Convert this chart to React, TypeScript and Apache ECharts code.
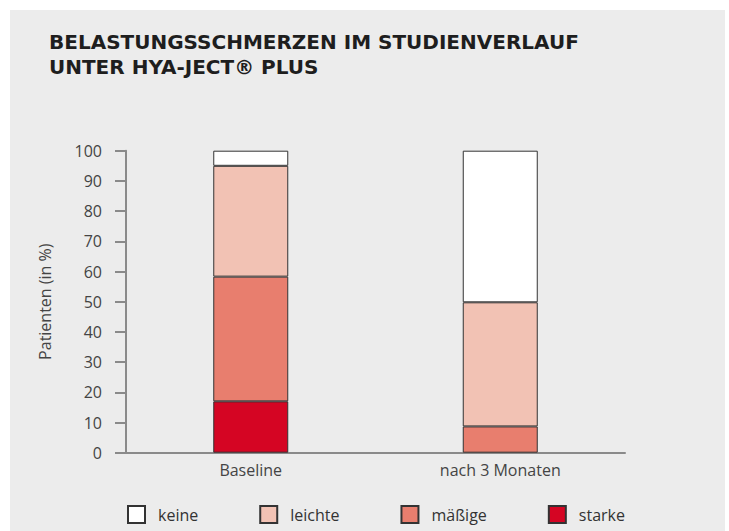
import React, { useEffect, useRef } from "react";
import * as echarts from "echarts";

const categories = ["Baseline", "nach 3 Monaten"];
const seriesNames = ["keine", "leichte", "mäßige", "starke"];
const keine = [5, 50.2];
const leichte = [36.7, 41.1];
const maessige = [41.3, 8.7];
const starke: (number | string)[] = [17, "-"];
const yTicks = { min: 0, max: 100, interval: 10 };
const colors: Record<string, string> = {
  keine: "#ffffff",
  leichte: "#f2c2b4",
  "mäßige": "#e87e6e",
  starke: "#d50523",
};

export default function App() {
  const ref = useRef<HTMLDivElement>(null);
  useEffect(() => {
    if (!ref.current) return;
    const chart = echarts.init(ref.current, null, { renderer: "svg" });
    const dataMap: Record<string, (number | string)[]> = {
      keine,
      leichte,
      "mäßige": maessige,
      starke,
    };
    const stackOrder = ["starke", "mäßige", "leichte", "keine"];
    const labelFont = "'Open Sans', sans-serif";
    chart.setOption({
      animation: false,
      graphic: [
        {
          type: "rect",
          z: -10,
          silent: true,
          shape: { x: 10, y: 10, width: 715, height: 531 },
          style: { fill: "#ececec" },
        },
        {
          type: "text",
          x: 49,
          y: 29,
          style: {
            text: "BELASTUNGSSCHMERZEN IM STUDIENVERLAUF\nUNTER HYA-JECT® PLUS",
            font: "bold 20px 'DejaVu Sans'",
            lineHeight: 25,
            fill: "#1e1e1e",
          },
        },
      ],
      grid: { left: 126, right: 104, top: 150.7, bottom: 78.3, containLabel: false },
      legend: {
        data: seriesNames,
        left: 122,
        top: 500,
        icon: "rect",
        itemWidth: 17,
        itemHeight: 17,
        itemGap: 61,
        textStyle: {
          fontSize: 16,
          color: "#333",
          fontFamily: labelFont,
          padding: [0, 0, 0, 8],
        },
      },
      xAxis: {
        type: "category",
        data: categories,
        axisLine: { lineStyle: { color: "#8a8a8a", width: 2 } },
        axisTick: { show: false },
        axisLabel: { fontSize: 16, color: "#444", fontFamily: labelFont, margin: 9 },
      },
      yAxis: {
        type: "value",
        min: yTicks.min,
        max: yTicks.max,
        interval: yTicks.interval,
        name: "Patienten (in %)",
        nameLocation: "middle",
        nameGap: 73,
        nameTextStyle: { fontSize: 16, color: "#444", fontFamily: labelFont },
        axisLine: { show: true, lineStyle: { color: "#8a8a8a", width: 2 } },
        axisTick: { show: true, length: 11, lineStyle: { color: "#8a8a8a", width: 2 } },
        splitLine: { show: false },
        axisLabel: { fontSize: 16, color: "#444", fontFamily: labelFont, margin: 24 },
      },
      series: stackOrder.map((name) => ({
        name,
        type: "bar",
        stack: "total",
        barWidth: 75,
        data: dataMap[name],
        itemStyle: { color: colors[name], borderColor: "#333", borderWidth: 1 },
      })),
    });
    return () => chart.dispose();
  }, []);
  return (
    <div
      ref={ref}
      style={{ position: "fixed", left: 0, top: 0, width: 729, height: 531, background: "#ffffff" }}
    />
  );
}
